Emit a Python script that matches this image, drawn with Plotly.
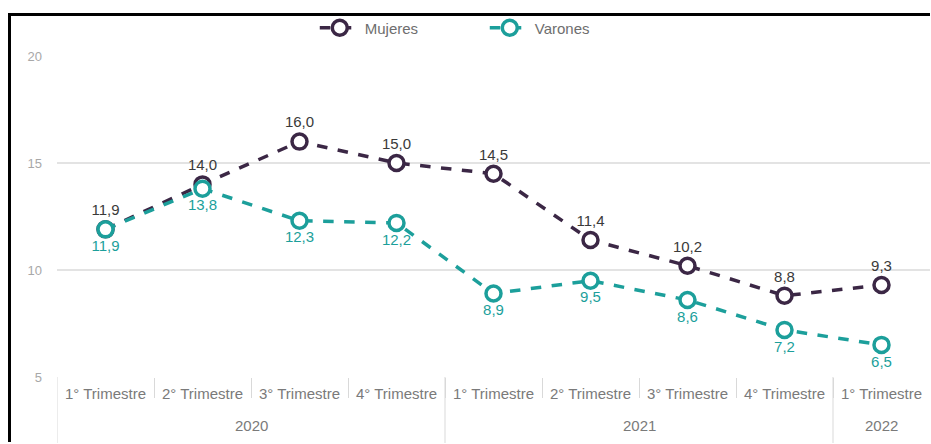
import plotly.graph_objects as go

# Tasa por trimestre, según sexo
years = ["2020", "2020", "2020", "2020", "2021", "2021", "2021", "2021", "2022"]
quarters = ["1° Trimestre", "2° Trimestre", "3° Trimestre", "4° Trimestre",
            "1° Trimestre", "2° Trimestre", "3° Trimestre", "4° Trimestre",
            "1° Trimestre"]
mujeres = [11.9, 14.0, 16.0, 15.0, 14.5, 11.4, 10.2, 8.8, 9.3]
varones = [11.9, 13.8, 12.3, 12.2, 8.9, 9.5, 8.6, 7.2, 6.5]

C_MUJ = "#3b2745"
C_VAR = "#1c9f9b"
C_DIV = "#d9d9d9"
FONT = "Liberation Sans"

W, H = 931, 444
ML, MR, MT, MB = 57, 1, 56, 67
PW, PH = W - ML - MR, H - MT - MB

idx = list(range(len(quarters)))


def px_to_paper_x(px):
    return (px - ML) / PW


def px_to_paper_y(py):
    return (H - MB - py) / PH


fig = go.Figure()

fig.add_trace(go.Scatter(
    x=idx, y=mujeres, name="Mujeres",
    mode="lines+markers+text",
    line=dict(color=C_MUJ, width=3.5, dash="dash"),
    marker=dict(size=15, color="white", line=dict(color=C_MUJ, width=3.5)),
    texttemplate="%{y:.1f}", textposition="top center",
    textfont=dict(color="#3a3a3a", size=15, family=FONT),
    cliponaxis=False,
))
fig.add_trace(go.Scatter(
    x=idx, y=varones, name="Varones",
    mode="lines+markers+text",
    line=dict(color=C_VAR, width=3.5, dash="dash"),
    marker=dict(size=15, color="white", line=dict(color=C_VAR, width=3.5)),
    texttemplate="%{y:.1f}", textposition="bottom center",
    textfont=dict(color=C_VAR, size=15, family=FONT),
    cliponaxis=False,
))

# year groups: label centred under each group, divider at each group edge
axis_bottom = px_to_paper_y(H - 1)
groups = []
for i, yr in enumerate(years):
    if not groups or groups[-1][0] != yr:
        groups.append([yr, i, i])
    else:
        groups[-1][2] = i

for yr, first, last in groups:
    fig.add_annotation(x=(first + last) / 2, y=px_to_paper_y(425),
                       xref="x", yref="paper", text=yr, showarrow=False,
                       yanchor="middle",
                       font=dict(size=15, color="#7a7a7a", family=FONT))
    fig.add_shape(type="line", xref="x", yref="paper",
                  x0=first - 0.5, x1=first - 0.5, y0=axis_bottom, y1=0,
                  line=dict(color=C_DIV, width=1))

# outer frame: only the left and top edges fall inside the canvas
x_left, y_top = px_to_paper_x(9.5), px_to_paper_y(14.5)
fig.add_shape(type="line", xref="paper", yref="paper",
              x0=x_left, x1=x_left, y0=px_to_paper_y(H - 2), y1=px_to_paper_y(13),
              line=dict(color="black", width=3), layer="above")
fig.add_shape(type="line", xref="paper", yref="paper",
              x0=px_to_paper_x(8), x1=px_to_paper_x(W - 1), y0=y_top, y1=y_top,
              line=dict(color="black", width=3), layer="above")

fig.update_layout(
    width=W, height=H,
    margin=dict(l=ML, r=MR, t=MT, b=MB),
    paper_bgcolor="white", plot_bgcolor="white",
    separators=",.",
    font=dict(family=FONT, color="#7f7f7f", size=13),
    showlegend=True,
    legend=dict(orientation="h", x=0.49, xanchor="center",
                y=px_to_paper_y(28), yanchor="middle",
                bgcolor="rgba(0,0,0,0)",
                font=dict(size=15, color="#6e6e6e", family=FONT),
                itemwidth=40, entrywidth=115),
    xaxis=dict(
        range=[-0.5, len(quarters) - 0.5],
        tickvals=idx, ticktext=quarters, ticks="",
        ticklabelstandoff=6,
        showgrid=False, zeroline=False, showline=False,
        tickfont=dict(size=15, color="#7a7a7a", family=FONT),
        minor=dict(tickvals=[i - 0.5 for i in idx[1:]], ticks="outside",
                   ticklen=20, tickcolor=C_DIV, tickwidth=1, showgrid=False),
    ),
    yaxis=dict(
        range=[5, 20], tickvals=[5, 10, 15, 20],
        showgrid=True, gridcolor="#e3e3e3", gridwidth=2,
        zeroline=False, showline=False,
        tickfont=dict(size=13, color="#a8a8a8", family=FONT),
        ticklabelstandoff=14,
    ),
)

# keep the page itself from scrolling
page_css = ("var s=document.createElement('style');"
            "s.textContent='html,body{margin:0!important;padding:0!important;"
            "overflow:hidden!important}::-webkit-scrollbar{display:none}';"
            "document.head.appendChild(s);")
fig.write_html("out.html", post_script=page_css)
